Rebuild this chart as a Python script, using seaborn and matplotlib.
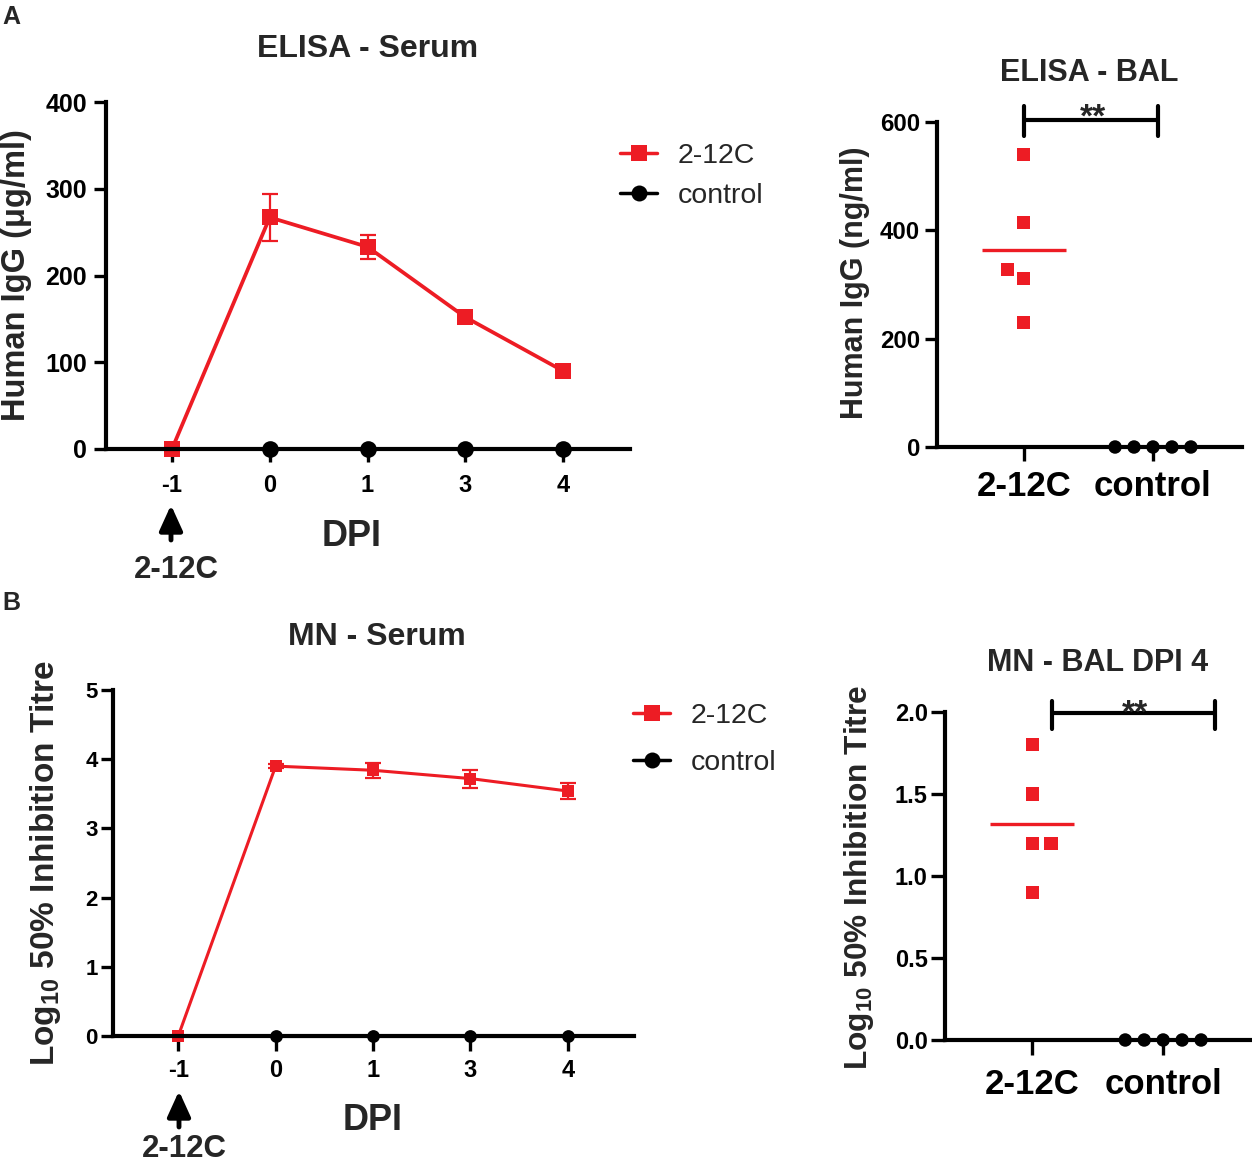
import numpy as np
import pandas as pd
import matplotlib.pyplot as plt
import seaborn as sns
from matplotlib.lines import Line2D
from matplotlib.patches import FancyArrowPatch
from matplotlib.collections import PathCollection

# values
dpi_days = [-1, 0, 1, 3, 4]
groups = ['2-12C', 'control']

# A - ELISA serum (mean +/- sem), control has no sample at DPI -1
elisa_serum_212c = [0, 267, 233, 152, 90]
elisa_serum_212c_err = [0, 27, 14, 5, 4]
elisa_serum_ctrl = [np.nan, 0, 0, 0, 0]

# B - MN serum
mn_serum_212c = [0, 3.90, 3.84, 3.72, 3.54]
mn_serum_212c_err = [0, 0.03, 0.11, 0.13, 0.12]
mn_serum_ctrl = [np.nan, 0, 0, 0, 0]

# BAL single animals
elisa_bal_212c = [540, 415, 327, 311, 230]
elisa_bal_ctrl = [0, 0, 0, 0, 0]
mn_bal_212c = [1.80, 1.50, 1.20, 1.20, 0.90]
mn_bal_ctrl = [0, 0, 0, 0, 0]

RED = '#ED1C24'
W, H = 1252, 1163

sns.set_style('ticks')
plt.rcParams['font.family'] = ['Liberation Sans', 'DejaVu Sans']
plt.rcParams['font.weight'] = 'bold'
plt.rcParams['mathtext.fontset'] = 'custom'
plt.rcParams['mathtext.rm'] = 'Liberation Sans'
plt.rcParams['mathtext.bf'] = 'Liberation Sans:bold'

fig = plt.figure(figsize=(W / 100, H / 100), dpi=100)


def rect(l, t, r, b):
    return [l / W, 1 - b / H, (r - l) / W, (b - t) / H]


def px(x, y):
    return x / W, 1 - y / H


def style_axes(ax, ysize, xsize, ylen, xlen, ypad, xpad):
    sns.despine(ax=ax)
    for s in ('left', 'bottom'):
        ax.spines[s].set_linewidth(3)
        ax.spines[s].set_color('black')
    ax.tick_params(axis='y', length=ylen, width=2.4, pad=ypad, labelsize=ysize, colors='black')
    ax.tick_params(axis='x', length=xlen, width=2.4, pad=xpad, labelsize=xsize, colors='black')
    ax.set_xlabel('')
    ax.set_ylabel('')
    # only the marks sitting on the zero line need to spill over the axes box
    for a in ax.lines:
        a.set_clip_on(False)
    for c in ax.collections:
        if isinstance(c, PathCollection):
            offs = np.asarray(c.get_offsets(), float)
            if len(offs) and np.nanmin(offs[:, 1]) <= 0:
                c.set_clip_on(False)


def serum_panel(ax, mean_212c, err_212c, mean_ctrl, ms, lw):
    df = pd.DataFrame({
        'DPI': dpi_days * 2,
        'value': list(mean_212c) + list(mean_ctrl),
        'group': ['2-12C'] * len(dpi_days) + ['control'] * len(dpi_days),
    }).dropna()
    ax.errorbar(np.arange(len(dpi_days)), mean_212c, yerr=err_212c, fmt='none',
                ecolor=RED, elinewidth=1.6, capsize=5.5, capthick=1.6, zorder=1.5)
    sns.pointplot(data=df, x='DPI', y='value', hue='group', order=dpi_days,
                  hue_order=['control', '2-12C'],
                  palette={'2-12C': RED, 'control': 'black'},
                  markers=['o', 's'], linestyles='-', errorbar=None,
                  markersize=ms, linewidth=lw, markeredgewidth=0,
                  legend=False, ax=ax)
    ax.set_xticks(range(len(dpi_days)), [str(d) for d in dpi_days])


def bal_panel(ax, vals_212c, vals_ctrl):
    df = pd.DataFrame({
        'group': ['2-12C'] * len(vals_212c) + ['control'] * len(vals_ctrl),
        'value': list(vals_212c) + list(vals_ctrl),
    })
    treated = df[df['group'] == '2-12C']
    sns.swarmplot(data=treated, x='group', y='value', order=groups, marker='s',
                  color=RED, size=9.4, linewidth=3.6, edgecolor='none', ax=ax)
    sns.swarmplot(data=df[df['group'] == 'control'], x='group', y='value', order=groups,
                  marker='o', color='black', size=9.7, linewidth=3.3, edgecolor='none', ax=ax)
    sns.pointplot(data=treated, x='group', y='value', order=groups, estimator='mean',
                  errorbar=None, color=RED, markers='_', linestyles='none',
                  markersize=61, markeredgewidth=2.4, ax=ax)


def legend_at(x, y, spacing):
    handles = [Line2D([], [], color=RED, marker='s', markersize=12, lw=2.5, markeredgewidth=0),
               Line2D([], [], color='black', marker='o', markersize=11.5, lw=2.5, markeredgewidth=0)]
    fig.legend(handles, groups, loc='upper left', bbox_to_anchor=px(x, y), frameon=False,
               prop={'weight': 'normal', 'size': 20.5}, handlelength=1.3, handletextpad=0.72,
               labelspacing=spacing, borderpad=0, borderaxespad=0)


def arrow_label(x, tip, tail, base):
    fig.add_artist(FancyArrowPatch(
        px(x, tail), px(x, tip), transform=fig.transFigure,
        arrowstyle='-|>,head_width=0.25,head_length=0.55', mutation_scale=28,
        lw=3.5, color='black', shrinkA=0, shrinkB=0))
    fig.text(*px(x + 5, base), '2-12C', ha='center', va='baseline', fontsize=22.5)


# ---- A: ELISA serum
ax1 = fig.add_axes(rect(106, 102, 630, 449))
serum_panel(ax1, elisa_serum_212c, elisa_serum_212c_err, elisa_serum_ctrl, 12, 2.7)
ax1.set_xlim(-0.675, 4.685)
ax1.set_ylim(0, 400)
ax1.set_yticks([0, 100, 200, 300, 400])
style_axes(ax1, 18, 17, 8.6, 9.5, 5, 8.5)
fig.text(*px(368, 56.7), 'ELISA - Serum', ha='center', va='baseline', fontsize=23)
fig.text(*px(25, 275), 'Human IgG (μg/ml)', rotation=90, rotation_mode='anchor',
         ha='center', va='baseline', fontsize=23.5)
fig.text(*px(352, 545.5), 'DPI', ha='center', va='baseline', fontsize=26)
arrow_label(171, 505, 540, 577.5)
legend_at(620, 143, 0.5)
fig.text(*px(2, 24), 'A', ha='left', va='baseline', fontsize=18)

# ---- A: ELISA BAL
ax2 = fig.add_axes(rect(937, 122, 1242, 447))
bal_panel(ax2, elisa_bal_212c, elisa_bal_ctrl)
ax2.set_xlim(-0.674, 1.69)
ax2.set_ylim(0, 600)
ax2.set_yticks([0, 200, 400, 600])
style_axes(ax2, 17.3, 25, 8.6, 10, 3.6, 6.5)
ax2.plot([0, 1.04], [603, 603], color='black', lw=3, clip_on=False)
ax2.plot([0, 0], [575, 630], color='black', lw=3, clip_on=False)
ax2.plot([1.04, 1.04], [575, 630], color='black', lw=3, clip_on=False)
fig.text(*px(1093, 126.5), '**', ha='center', va='baseline', fontsize=24)
fig.text(*px(1089, 80.7), 'ELISA - BAL', ha='center', va='baseline', fontsize=22)
fig.text(*px(863, 283), 'Human IgG (ng/ml)', rotation=90, rotation_mode='anchor',
         ha='center', va='baseline', fontsize=22)

# ---- B: MN serum
ax3 = fig.add_axes(rect(113, 690, 634, 1036))
serum_panel(ax3, mn_serum_212c, mn_serum_212c_err, mn_serum_ctrl, 9.2, 2.2)
ax3.set_xlim(-0.67, 4.68)
ax3.set_ylim(0, 5)
ax3.set_yticks(range(6))
style_axes(ax3, 16, 17, 9, 10.5, 2, 6.4)
fig.text(*px(377, 645), 'MN - Serum', ha='center', va='baseline', fontsize=23)
fig.text(*px(54, 863), r'Log$_{\mathrm{10}}$ 50% Inhibition Titre', rotation=90,
         rotation_mode='anchor', ha='center', va='baseline', fontsize=24)
fig.text(*px(373, 1130), 'DPI', ha='center', va='baseline', fontsize=26)
arrow_label(179, 1091, 1127, 1157)
legend_at(633, 703, 0.75)
fig.text(*px(2, 610), 'B', ha='left', va='baseline', fontsize=18)

# ---- B: MN BAL DPI 4
ax4 = fig.add_axes(rect(945, 712, 1251, 1040))
bal_panel(ax4, mn_bal_212c, mn_bal_ctrl)
ax4.set_xlim(-0.664, 1.67)
ax4.set_ylim(0, 2.0)
ax4.set_yticks([0, 0.5, 1.0, 1.5, 2.0], ['0.0', '0.5', '1.0', '1.5', '2.0'])
style_axes(ax4, 17, 25, 10, 10.8, 2.4, 9.5)
ax4.plot([0.153, 1.397], [1.992, 1.992], color='black', lw=3, clip_on=False)
ax4.plot([0.153, 0.153], [1.896, 2.067], color='black', lw=3, clip_on=False)
ax4.plot([1.397, 1.397], [1.896, 2.067], color='black', lw=3, clip_on=False)
fig.text(*px(1135, 723), '**', ha='center', va='baseline', fontsize=24)
fig.text(*px(1098, 670.7), 'MN - BAL DPI 4', ha='center', va='baseline', fontsize=22)
fig.text(*px(867, 877), r'Log$_{\mathrm{10}}$ 50% Inhibition Titre', rotation=90,
         rotation_mode='anchor', ha='center', va='baseline', fontsize=22.8)

fig.savefig('out.png', dpi=100)
